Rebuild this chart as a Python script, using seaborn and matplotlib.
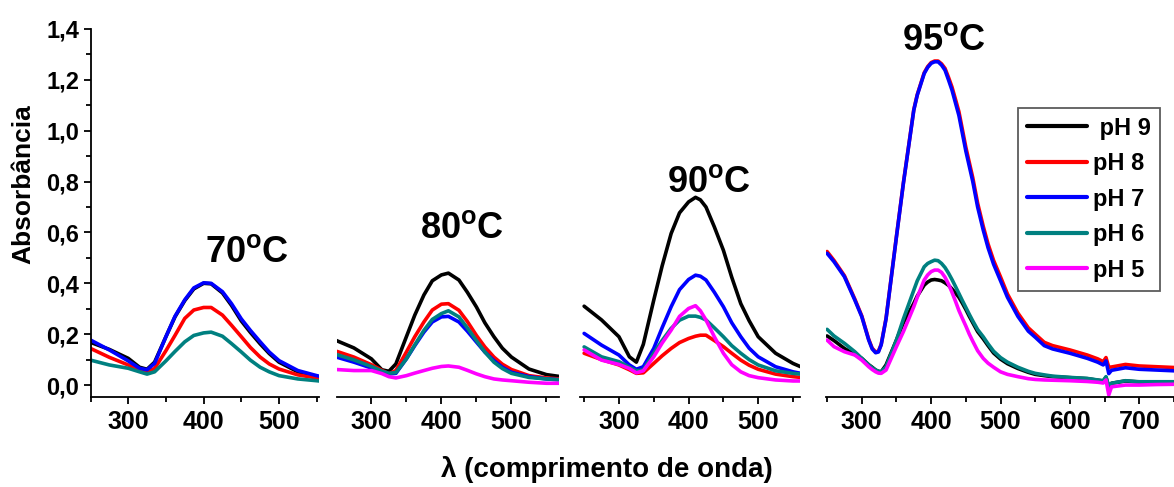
import numpy as np
import pandas as pd
import matplotlib
matplotlib.use('Agg')
import matplotlib.pyplot as plt
import seaborn as sns

sns.set_style('ticks')
plt.rcParams['font.family'] = ['Liberation Sans', 'DejaVu Sans']
plt.rcParams['font.weight'] = 'bold'
plt.rcParams['mathtext.fontset'] = 'custom'
plt.rcParams['mathtext.rm'] = 'Liberation Sans:bold'
plt.rcParams['mathtext.bf'] = 'Liberation Sans:bold'
for k in ['text.color', 'axes.labelcolor', 'xtick.color', 'ytick.color', 'axes.edgecolor']:
    plt.rcParams[k] = 'black'

# ---- data (wavelength nm, absorbance) ----
ph_labels = ['pH 9', 'pH 8', 'pH 7', 'pH 6', 'pH 5']
colors = {'pH 9': '#000000', 'pH 8': '#ff0000', 'pH 7': '#0000ff',
          'pH 6': '#008080', 'pH 5': '#ff00ff'}

# 70 C
wl_70 = [250, 275, 300, 315, 325, 335, 350, 362, 375, 387, 400, 410, 425, 437, 450, 462, 475, 487, 500, 525, 550, 553]
abs_70 = {
    'pH 9': [0.168, 0.140, 0.105, 0.070, 0.062, 0.090, 0.190, 0.268, 0.332, 0.378, 0.400, 0.398, 0.362, 0.313, 0.252, 0.207, 0.162, 0.124, 0.090, 0.052, 0.033, 0.031],
    'pH 8': [0.144, 0.109, 0.079, 0.059, 0.052, 0.065, 0.135, 0.195, 0.262, 0.295, 0.305, 0.305, 0.275, 0.235, 0.190, 0.148, 0.110, 0.083, 0.063, 0.040, 0.028, 0.027],
    'pH 7': [0.177, 0.138, 0.095, 0.066, 0.060, 0.085, 0.190, 0.270, 0.335, 0.382, 0.402, 0.400, 0.367, 0.320, 0.260, 0.215, 0.170, 0.130, 0.096, 0.057, 0.037, 0.035],
    'pH 6': [0.098, 0.079, 0.066, 0.052, 0.043, 0.052, 0.095, 0.132, 0.170, 0.195, 0.205, 0.208, 0.192, 0.163, 0.130, 0.098, 0.070, 0.052, 0.037, 0.024, 0.017, 0.016],
}

# 80 C
wl_80 = [250, 275, 300, 315, 325, 335, 350, 362, 375, 387, 400, 410, 425, 437, 450, 462, 475, 487, 500, 525, 550, 568]
abs_80 = {
    'pH 9': [0.175, 0.146, 0.103, 0.060, 0.054, 0.083, 0.190, 0.275, 0.354, 0.410, 0.433, 0.440, 0.413, 0.365, 0.307, 0.245, 0.190, 0.145, 0.110, 0.063, 0.041, 0.034],
    'pH 8': [0.133, 0.110, 0.080, 0.058, 0.044, 0.057, 0.130, 0.190, 0.248, 0.295, 0.318, 0.320, 0.294, 0.250, 0.195, 0.150, 0.110, 0.082, 0.061, 0.037, 0.028, 0.024],
    'pH 7': [0.110, 0.090, 0.067, 0.052, 0.044, 0.046, 0.103, 0.155, 0.208, 0.248, 0.268, 0.270, 0.248, 0.212, 0.169, 0.130, 0.096, 0.070, 0.050, 0.033, 0.024, 0.021],
    'pH 6': [0.120, 0.099, 0.073, 0.055, 0.046, 0.049, 0.103, 0.158, 0.215, 0.258, 0.281, 0.292, 0.268, 0.225, 0.175, 0.130, 0.090, 0.065, 0.046, 0.030, 0.024, 0.021],
    'pH 5': [0.061, 0.057, 0.057, 0.045, 0.033, 0.028, 0.037, 0.047, 0.057, 0.066, 0.073, 0.075, 0.070, 0.058, 0.044, 0.033, 0.024, 0.020, 0.017, 0.011, 0.007, 0.007],
}

# 90 C
wl_90 = [250, 275, 300, 315, 325, 335, 350, 362, 375, 387, 400, 410, 417, 425, 437, 450, 462, 475, 487, 500, 525, 550, 561]
abs_90 = {
    'pH 9': [0.310, 0.256, 0.190, 0.111, 0.090, 0.160, 0.334, 0.468, 0.596, 0.677, 0.720, 0.738, 0.728, 0.700, 0.622, 0.530, 0.424, 0.320, 0.253, 0.190, 0.125, 0.085, 0.072],
    'pH 8': [0.125, 0.100, 0.079, 0.060, 0.046, 0.048, 0.085, 0.115, 0.144, 0.167, 0.183, 0.192, 0.196, 0.196, 0.175, 0.151, 0.125, 0.098, 0.078, 0.062, 0.043, 0.033, 0.030],
    'pH 7': [0.203, 0.157, 0.118, 0.079, 0.062, 0.072, 0.144, 0.225, 0.308, 0.375, 0.415, 0.432, 0.428, 0.413, 0.365, 0.308, 0.245, 0.190, 0.145, 0.111, 0.072, 0.052, 0.046],
    'pH 6': [0.150, 0.111, 0.092, 0.070, 0.056, 0.059, 0.125, 0.175, 0.223, 0.255, 0.271, 0.271, 0.266, 0.256, 0.225, 0.190, 0.155, 0.125, 0.100, 0.079, 0.056, 0.046, 0.043],
    'pH 5': [0.138, 0.098, 0.081, 0.065, 0.048, 0.056, 0.111, 0.165, 0.216, 0.270, 0.301, 0.312, 0.292, 0.256, 0.190, 0.125, 0.080, 0.052, 0.037, 0.029, 0.020, 0.016, 0.016],
}

# 95 C
wl_95 = [250, 260, 275, 290, 300, 310, 315, 320, 324, 328, 335, 350, 360, 375, 380, 390, 395, 400, 405, 410,
         415, 420, 425, 430, 435, 440, 445, 450, 455, 460, 467, 475, 482, 490, 500, 510, 525, 540, 550, 563,
         575, 600, 625, 640, 648, 652, 656, 660, 680, 700, 725, 750]
abs_95 = {
    'pH 9': [0.193, 0.175, 0.144, 0.120, 0.105, 0.080, 0.070, 0.059, 0.054, 0.052, 0.079, 0.177, 0.245, 0.321, 0.350, 0.393, 0.405, 0.413, 0.415, 0.413,
             0.410, 0.402, 0.392, 0.378, 0.362, 0.345, 0.322, 0.297, 0.270, 0.245, 0.210, 0.182, 0.155, 0.126, 0.102, 0.084, 0.065, 0.050, 0.042, 0.037,
             0.033, 0.029, 0.025, 0.019, 0.016, 0.030, -0.007, 0.007, 0.016, 0.012, 0.012, 0.012],
    'pH 8': [0.525, 0.490, 0.430, 0.338, 0.272, 0.180, 0.145, 0.130, 0.133, 0.160, 0.262, 0.585, 0.795, 1.083, 1.142, 1.228, 1.252, 1.268, 1.274, 1.274,
             1.263, 1.245, 1.210, 1.172, 1.124, 1.075, 1.005, 0.935, 0.875, 0.815, 0.715, 0.625, 0.555, 0.490, 0.425, 0.358, 0.283, 0.225, 0.200, 0.168,
             0.155, 0.138, 0.118, 0.103, 0.092, 0.108, 0.070, 0.071, 0.081, 0.075, 0.072, 0.069],
    'pH 7': [0.518, 0.485, 0.426, 0.334, 0.269, 0.177, 0.142, 0.127, 0.130, 0.158, 0.260, 0.583, 0.793, 1.081, 1.140, 1.225, 1.249, 1.265, 1.271, 1.271,
             1.258, 1.238, 1.200, 1.160, 1.110, 1.060, 0.990, 0.920, 0.860, 0.800, 0.700, 0.610, 0.540, 0.475, 0.410, 0.345, 0.270, 0.212, 0.188, 0.155,
             0.142, 0.125, 0.105, 0.090, 0.079, 0.095, 0.045, 0.058, 0.068, 0.062, 0.059, 0.056],
    'pH 6': [0.219, 0.193, 0.164, 0.131, 0.105, 0.079, 0.068, 0.059, 0.054, 0.052, 0.072, 0.177, 0.260, 0.373, 0.410, 0.465, 0.478, 0.485, 0.491, 0.489,
             0.478, 0.462, 0.440, 0.415, 0.388, 0.360, 0.332, 0.305, 0.278, 0.252, 0.218, 0.190, 0.162, 0.133, 0.108, 0.090, 0.070, 0.054, 0.046, 0.040,
             0.035, 0.030, 0.026, 0.020, 0.017, 0.033, -0.007, 0.007, 0.017, 0.013, 0.013, 0.013],
    'pH 5': [0.177, 0.151, 0.131, 0.118, 0.098, 0.072, 0.061, 0.052, 0.047, 0.046, 0.059, 0.151, 0.210, 0.308, 0.345, 0.413, 0.433, 0.446, 0.452, 0.452,
             0.443, 0.424, 0.397, 0.365, 0.330, 0.293, 0.262, 0.232, 0.200, 0.172, 0.135, 0.105, 0.086, 0.070, 0.052, 0.042, 0.033, 0.025, 0.022, 0.020,
             0.019, 0.017, 0.014, 0.011, 0.008, 0.020, -0.039, -0.007, 0.000, 0.000, 0.002, 0.003],
}

panels = [
    ('70', wl_70, abs_70),
    ('80', wl_80, abs_80),
    ('90', wl_90, abs_90),
    ('95', wl_95, abs_95),
]

# layout (figure fractions) and x ranges, matched to the original figure
boxes = [(0.0771, 0.1946), (0.2871, 0.1891), (0.4940, 0.1874), (0.7036, 0.2964)]
xlims = [(250, 553), (251, 568), (244, 560), (248.5, 750)]
titles_pos = [(457, 0.484), (430, 0.578), (429, 0.759), (418, 1.317)]
bottom, height = 0.1848, 0.7557

fig = plt.figure(figsize=(11.74, 4.87), dpi=100)

for i, (temp, wl, data) in enumerate(panels):
    ax = fig.add_axes([boxes[i][0], bottom, boxes[i][1], height])
    rows = []
    for ph in ph_labels:
        if ph in data:
            for x, y in zip(wl, data[ph]):
                rows.append((x, y, ph))
    df = pd.DataFrame(rows, columns=['wl', 'abs', 'ph'])
    order = [p for p in ph_labels if p in data]
    sns.lineplot(data=df, x='wl', y='abs', hue='ph', hue_order=order,
                 palette=colors, estimator=None, linewidth=2.6, ax=ax,
                 legend=(i == 3))
    for ln in ax.get_lines():
        ln.set_solid_joinstyle('round')

    ax.set_xlim(*xlims[i])
    ax.set_ylim(-0.047, 1.4)
    ax.set_xlabel('')
    ax.set_ylabel('')
    ax.xaxis.set_major_locator(matplotlib.ticker.MultipleLocator(100))
    ax.xaxis.set_minor_locator(matplotlib.ticker.MultipleLocator(50))
    ax.tick_params(axis='x', which='major', direction='out', length=5, width=1.3,
                   labelsize=18, pad=4)
    ax.tick_params(axis='x', which='minor', direction='out', length=3.5, width=1.3)
    for lab in ax.get_xticklabels():
        lab.set_fontweight('bold')

    sns.despine(ax=ax, top=True, right=True, left=(i > 0))
    ax.spines['bottom'].set_linewidth(1.3)
    if i == 0:
        ax.spines['left'].set_linewidth(1.3)
        ax.yaxis.set_major_locator(matplotlib.ticker.MultipleLocator(0.2))
        ax.yaxis.set_minor_locator(matplotlib.ticker.MultipleLocator(0.1))
        ax.yaxis.set_major_formatter(matplotlib.ticker.FuncFormatter(
            lambda v, p: f'{v:.1f}'.replace('.', ',')))
        ax.tick_params(axis='y', which='major', direction='out', length=5, width=1.3,
                       labelsize=17, pad=3)
        ax.tick_params(axis='y', which='minor', direction='out', length=3.5, width=1.3)
        for lab in ax.get_yticklabels():
            lab.set_fontweight('bold')
    else:
        ax.set_yticks([])
        ax.tick_params(axis='y', which='both', left=False, labelleft=False)

    tx, ty = titles_pos[i]
    ax.text(tx, ty, temp + r'$^{\mathbf{o}}$C', ha='center', va='baseline',
            fontsize=26, fontweight='bold')

    if i == 3:
        leg = ax.legend(loc='upper left', bbox_to_anchor=(0.552, 0.786),
                        frameon=True, fancybox=False, fontsize=17,
                        handlelength=2.55, handletextpad=0.25, labelspacing=0.53,
                        borderpad=0.38, borderaxespad=0.0, title=None)
        leg.get_frame().set_edgecolor('#333333')
        leg.get_frame().set_linewidth(1.3)
        for t in leg.get_texts():
            t.set_fontweight('bold')
        leg.get_texts()[0].set_text(' pH 9')
        for h in leg.get_lines():
            h.set_linewidth(3)

fig.text(0.0196, 0.622, 'Absorbância', rotation=90, ha='center', va='center',
         fontsize=19, fontweight='bold')
fig.text(0.517, 0.035, 'λ (comprimento de onda)', ha='center', va='center',
         fontsize=20, fontweight='bold')

fig.savefig('out.png', dpi=100)
